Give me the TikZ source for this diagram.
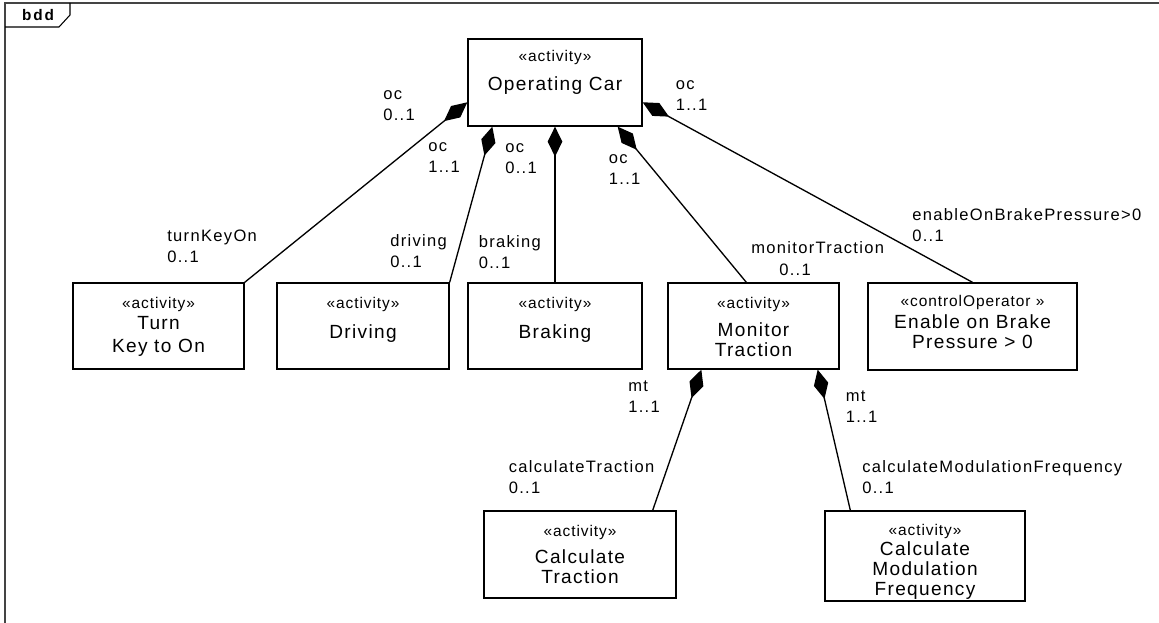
\documentclass[tikz,border=0pt]{standalone}
\usepackage{fontspec}
\setmainfont{Liberation Sans}
\newfontfamily\lblfont[LetterSpace=8]{Liberation Sans}
\newfontfamily\boxfont[LetterSpace=7]{Liberation Sans}
\newfontfamily\stfont[LetterSpace=6]{Liberation Sans}
\newfontfamily\bddfont[LetterSpace=12]{Liberation Sans}
\usetikzlibrary{arrows.meta,fit,calc}
\definecolor{framec}{HTML}{444444}
\newcommand\mklab[5]{%
  \node[lbl] (#1a) at (#2,#3-21) {#4};
  \node[lbl] (#1b) at (#2,#3) {#5};}
\begin{document}
\begin{tikzpicture}[x=0.75pt,y=-0.75pt,
  box/.style={draw=black,line width=1pt,inner sep=0pt,fill=white},
  conn/.style={draw=black,line width=1pt,-{Diamond[length=22.5pt,width=11pt]}},
  lbl/.style={anchor=base west,inner sep=0pt,font=\lblfont\fontsize{12.4}{14}\selectfont},
  st/.style={anchor=base,inner sep=0pt,font=\stfont\fontsize{11.6}{14}\selectfont},
  nm/.style={anchor=base,inner sep=0pt,font=\boxfont\fontsize{14.3}{16}\selectfont}]
\fill[white] (0,0) rectangle (1159,623);
\useasboundingbox (0,0) rectangle (1159,623);
% frame
\draw[framec,line width=1.6pt] (5,623) -- (5,3) -- (1159,3);
\draw[black,line width=0.8pt] (5,27) -- (59,27) -- (70,15) -- (70,3);
\node[font=\bddfont\bfseries\fontsize{11.5}{13}\selectfont,inner sep=0pt] (bdd) at (38,15) {bdd};
% boxes
\node[box,fit={(468,39) (642,126)}] (oc) {};
\node[box,fit={(73,283) (244,369)}] (tk) {};
\node[box,fit={(277,283) (449,369)}] (dr) {};
\node[box,fit={(468,283) (642,369)}] (br) {};
\node[box,fit={(668,283) (839,369)}] (mt) {};
\node[box,fit={(868,283) (1077,370)}] (en) {};
\node[box,fit={(484,511) (676,598)}] (ct) {};
\node[box,fit={(825,511) (1025,601)}] (cm) {};
% connector end points
\coordinate (p1) at ($(oc.north west)!0.724!(oc.south west)$);
\coordinate (p2) at ($(oc.south west)+(25,0)$);
\coordinate (p4) at ($(oc.south east)+(-25,0)$);
\coordinate (p5) at ($(oc.north east)!0.724!(oc.south east)$);
\coordinate (q4) at ($(mt.north west)+(79,0)$);
\coordinate (q6) at ($(mt.south west)+(34,0)$);
\coordinate (r6) at ($(ct.north east)+(-24,0)$);
\coordinate (q7) at ($(mt.south east)+(-22,0)$);
\coordinate (r7) at ($(cm.north west)+(26,0)$);
% connectors
\draw[conn] (tk.north east) -- (p1);
\draw[conn] (dr.north east) -- (p2);
\draw[conn] (br.north) -- (oc.south);
\draw[conn] (q4) -- (p4);
\draw[conn] (en.north) -- (p5);
\draw[conn] (r6) -- (q6);
\draw[conn] (r7) -- (q7);
% box texts
\node[st] (ocs) at (555,62) {«activity»};
\node[nm] (ocn) at (555,90.5) {Operating Car};
\node[st] (tks) at (158.5,309) {«activity»};
\node[nm] (tkn1) at (158.5,329.5) {Turn};
\node[nm] (tkn2) at (158.5,352.5) {Key to On};
\node[st] (drs) at (363,309) {«activity»};
\node[nm] (drn) at (363,338.5) {Driving};
\node[st] (brs) at (555,309) {«activity»};
\node[nm] (brn) at (555,338.5) {Braking};
\node[st] (mts) at (753.5,309) {«activity»};
\node[nm] (mtn1) at (753.5,337) {Monitor};
\node[nm] (mtn2) at (753.5,356.5) {Traction};
\node[st] (ens) at (972.5,306) {«controlOperator »};
\node[nm] (enn1) at (972.5,328.5) {Enable on Brake};
\node[nm] (enn2) at (972.5,348.5) {Pressure > 0};
\node[st] (cts) at (580,536) {«activity»};
\node[nm] (ctn1) at (580,563.5) {Calculate};
\node[nm] (ctn2) at (580,583.5) {Traction};
\node[st] (cms) at (925,535) {«activity»};
\node[nm] (cmn1) at (925,555.5) {Calculate};
\node[nm] (cmn2) at (925,575.5) {Modulation};
\node[nm] (cmn3) at (925,595) {Frequency};
% role labels
\mklab{La}{383}{120.5}{oc}{0..1}
\mklab{Lb}{428}{172.5}{oc}{1..1}
\mklab{Lc}{505}{173.5}{oc}{0..1}
\mklab{Ld}{608.6}{184.5}{oc}{1..1}
\mklab{Le}{675.5}{110.5}{oc}{1..1}
\mklab{Lf}{167}{262.5}{turnKeyOn}{0..1}
\mklab{Lg}{390}{267.5}{driving}{0..1}
\mklab{Lh}{478.5}{268.5}{braking}{0..1}
\node[lbl] (Lia) at (751,254) {monitorTraction};
\node[lbl] (Lib) at (779,275.5) {0..1};
\mklab{Lj}{912}{241.5}{enableOnBrakePressure>0}{0..1}
\mklab{Lk}{628}{412.5}{mt}{1..1}
\mklab{Ll}{845.5}{422.5}{mt}{1..1}
\mklab{Lm}{508.5}{493.5}{calculateTraction}{0..1}
\mklab{Ln}{862}{493.5}{calculateModulationFrequency}{0..1}
\end{tikzpicture}
\end{document}
